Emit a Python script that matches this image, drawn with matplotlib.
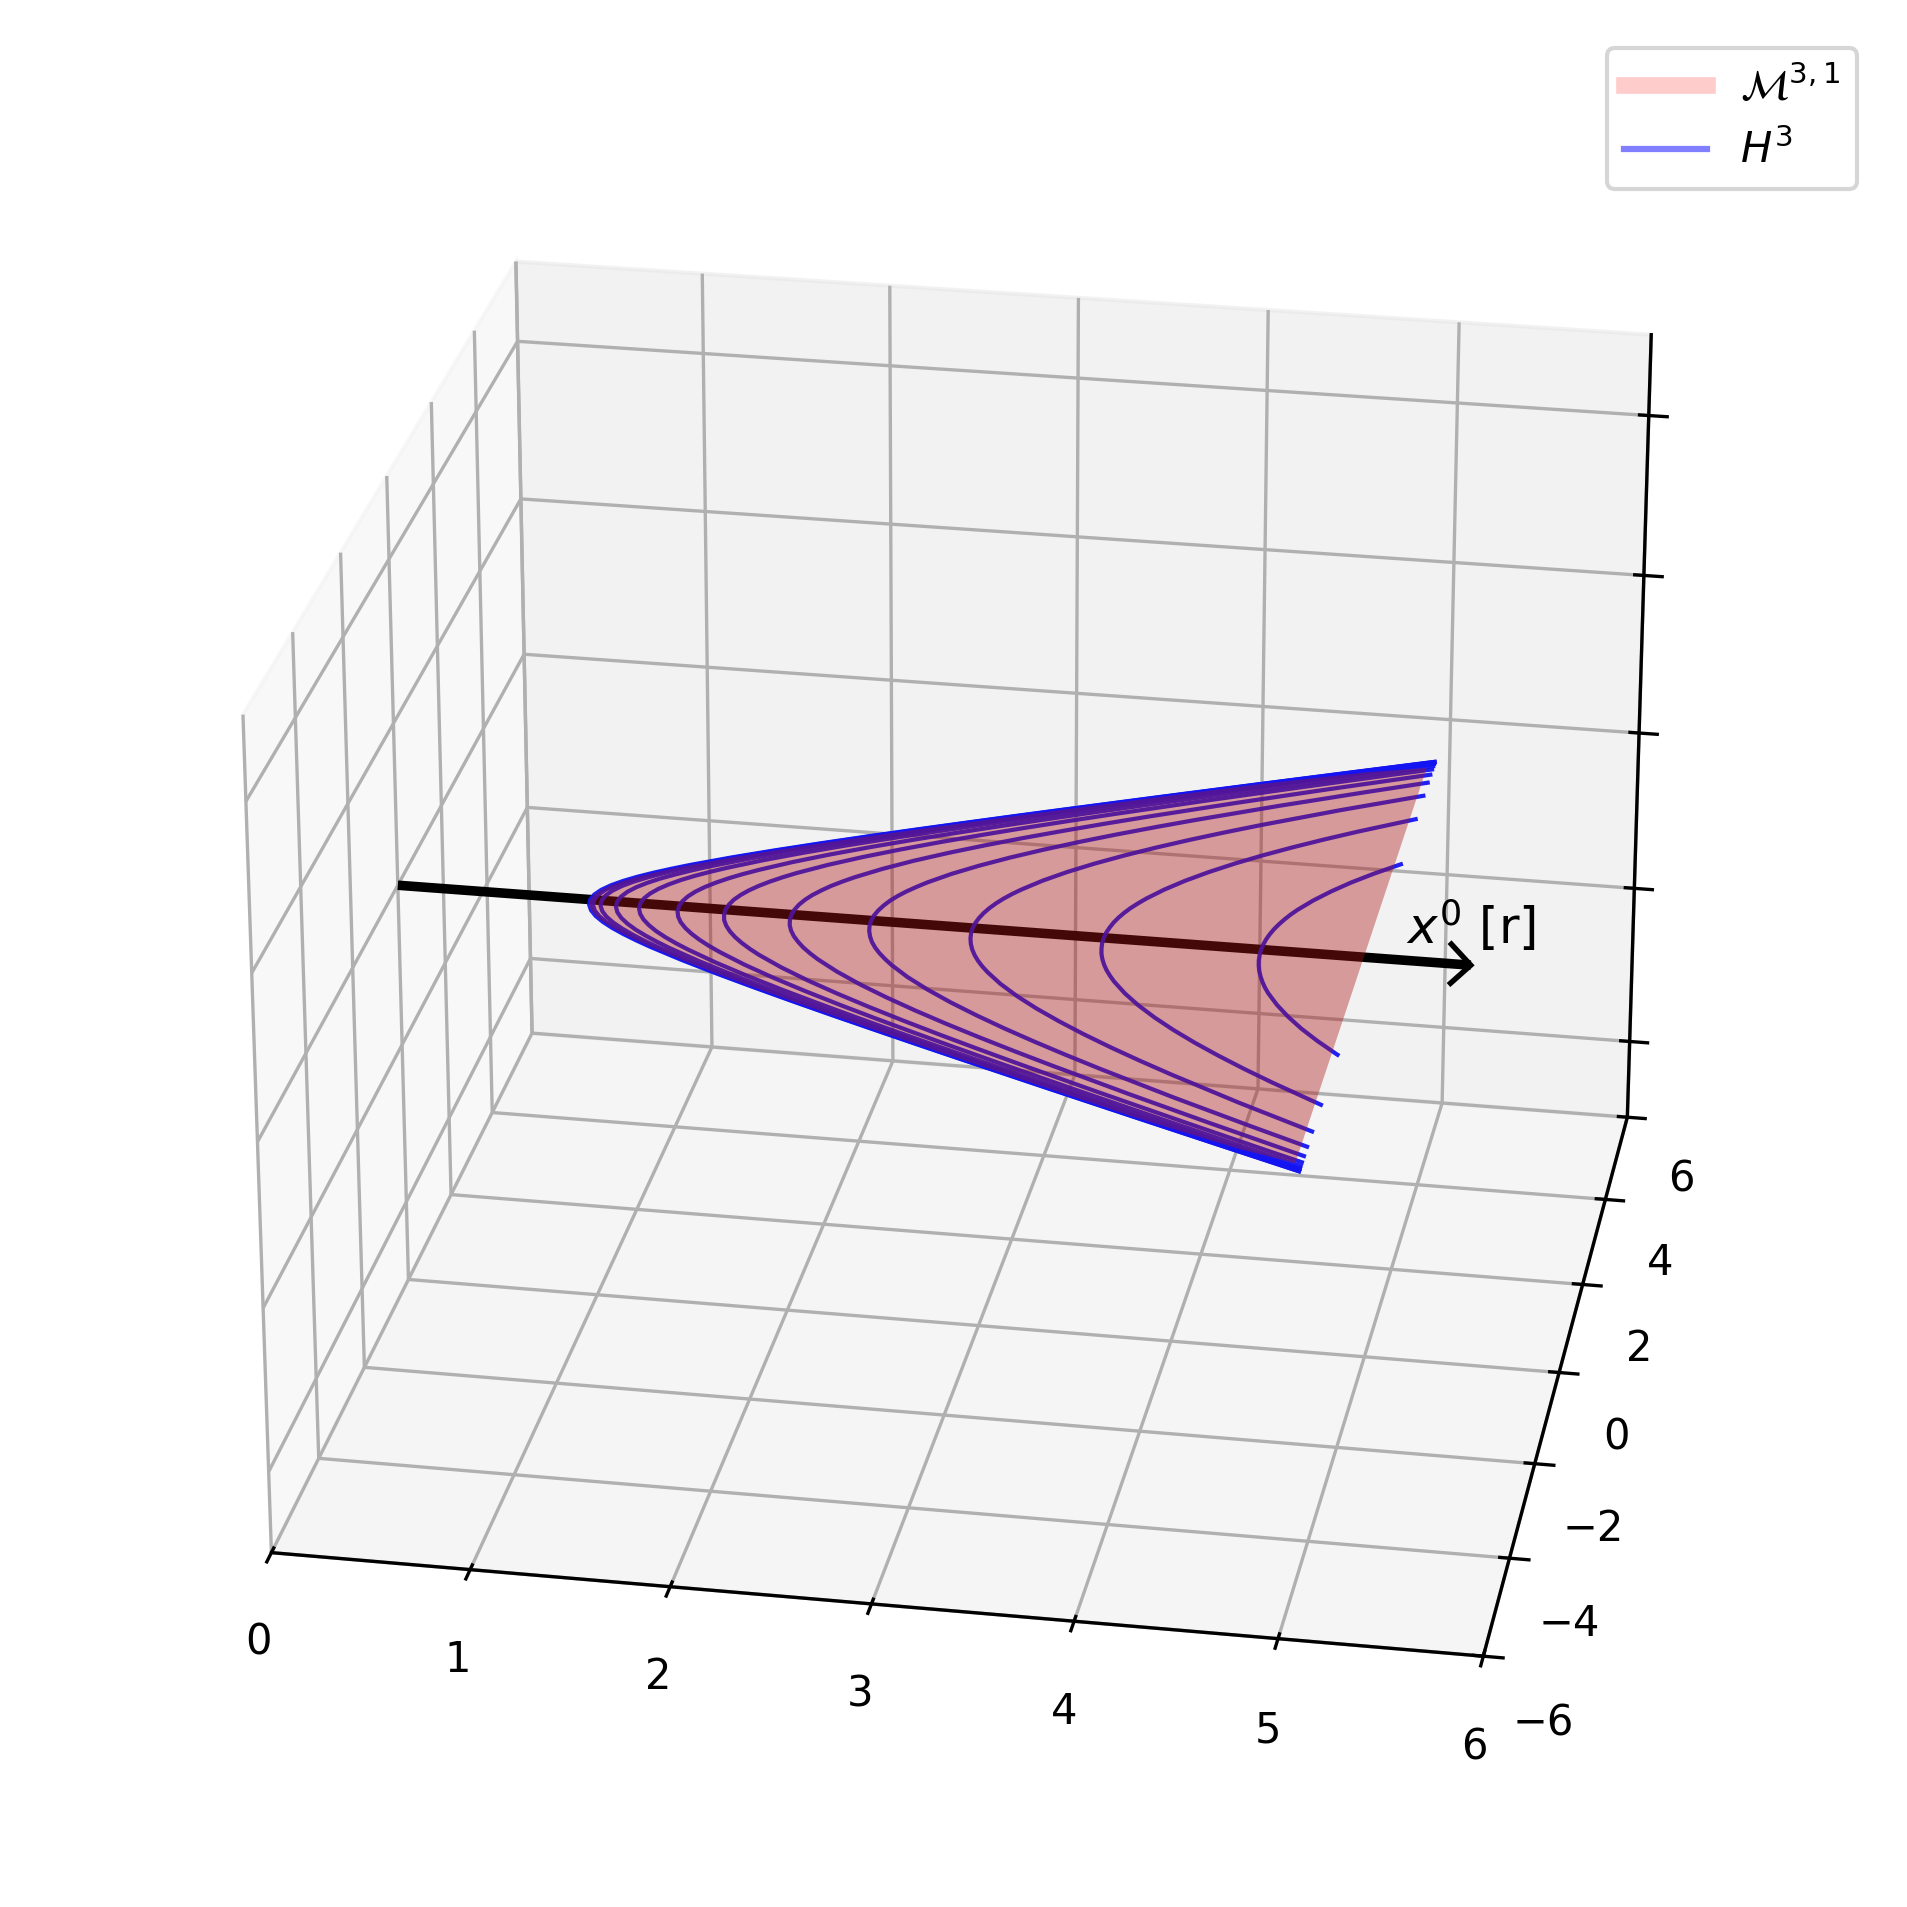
import matplotlib
matplotlib.use("Agg")
import matplotlib.pyplot as plt
from matplotlib.lines import Line2D
from mpl_toolkits.mplot3d.art3d import Poly3DCollection

# Half-hyperbola samples: x0 at each |x1| value
y_samples = [0, .125, .25, .375, .5, .625, .75, .875, 1, 1.25, 1.5, 1.75, 2, 2.25, 2.5, 2.75, 3, 3.5, 4, 4.5]
curve_a = [1, 1.008, 1.031, 1.068, 1.118, 1.179, 1.25, 1.329, 1.414, 1.601, 1.803, 2.016, 2.236, 2.462, 2.693, 2.926, 3.162, 3.640, 4.123, 4.610]
curve_b = [1.02, 1.028, 1.050, 1.087, 1.136, 1.196, 1.266, 1.344, 1.428, 1.613, 1.814, 2.026, 2.245, 2.470, 2.700, 2.933, 3.169, 3.646, 4.128, 4.614]
curve_c = [1.06, 1.067, 1.089, 1.124, 1.172, 1.231, 1.299, 1.374, 1.457, 1.639, 1.837, 2.046, 2.264, 2.487, 2.715, 2.947, 3.182, 3.657, 4.138, 4.623]
curve_d = [1.14, 1.147, 1.167, 1.200, 1.245, 1.300, 1.365, 1.437, 1.516, 1.692, 1.884, 2.089, 2.302, 2.522, 2.748, 2.977, 3.209, 3.681, 4.159, 4.642]
curve_e = [1.26, 1.266, 1.285, 1.315, 1.356, 1.406, 1.466, 1.534, 1.609, 1.775, 1.959, 2.156, 2.364, 2.579, 2.800, 3.025, 3.254, 3.720, 4.194, 4.673]
curve_f = [1.46, 1.465, 1.481, 1.507, 1.543, 1.588, 1.641, 1.702, 1.770, 1.922, 2.093, 2.279, 2.476, 2.682, 2.895, 3.114, 3.336, 3.792, 4.258, 4.731]
curve_g = [1.7, 1.705, 1.718, 1.741, 1.772, 1.811, 1.858, 1.912, 1.972, 2.110, 2.267, 2.440, 2.625, 2.820, 3.023, 3.233, 3.448, 3.891, 4.346, 4.810]
curve_h = [2.04, 2.044, 2.055, 2.074, 2.100, 2.134, 2.173, 2.220, 2.272, 2.393, 2.532, 2.688, 2.857, 3.037, 3.227, 3.424, 3.628, 4.051, 4.490]
curve_i = [2.45, 2.453, 2.463, 2.479, 2.500, 2.528, 2.562, 2.602, 2.646, 2.750, 2.873, 3.011, 3.163, 3.326, 3.500, 3.683, 3.873, 4.272, 4.691]
curve_j = [2.97, 2.973, 2.981, 2.994, 3.012, 3.035, 3.063, 3.096, 3.134, 3.222, 3.327, 3.447, 3.581, 3.726, 3.882, 4.048, 4.222, 4.590, 4.982]
curve_k = [3.64, 3.642, 3.649, 3.659, 3.674, 3.693, 3.716, 3.744, 3.775, 3.849, 3.937, 4.039, 4.153, 4.279, 4.416, 4.562, 4.717]
curve_l = [4.44, 4.442, 4.447, 4.456, 4.468, 4.484, 4.503, 4.525, 4.551, 4.613, 4.687, 4.772, 4.870, 4.978]
curves = [curve_a, curve_b, curve_c, curve_d, curve_e, curve_f, curve_g, curve_h, curve_i, curve_j, curve_k, curve_l]
# |x1| where each curve stops, at x0 = 5
curve_end_y = [4.899, 4.895, 4.886, 4.868, 4.839, 4.782, 4.701, 4.565, 4.359, 4.022, 3.428, 2.299]
curve_end_x = 5.0

# Outline of the shaded region (upper half, mirrored)
fill_y = y_samples[:19] + [4.5, 4.72]
fill_x = curve_a[:19] + [4.66, 4.96]

arrow_len = 5.5
head_back = 0.10
head_half = 0.24
x_ticks = [0, 1, 2, 3, 4, 5, 6]
y_ticks = [-6, -4, -2, 0, 2, 4, 6]
z_ticks = [-4, -2, 0, 2, 4]

fig = plt.figure(figsize=(1907/300, 1907/300), dpi=300)
ax = fig.add_axes([0.015, 0.015, 0.97, 0.97], projection='3d')
ax.computed_zorder = False
ax.view_init(elev=25, azim=-80)
ax.set_xlim(0, 6); ax.set_ylim(-6, 6); ax.set_zlim(-5, 5)
ax.set_xticks(x_ticks); ax.set_yticks(y_ticks); ax.set_zticks(z_ticks)
ax.set_zticklabels([])

ax.plot([0, arrow_len], [0, 0], [0, 0], color='k', lw=2.3, zorder=1, solid_capstyle='butt')
ax.plot([arrow_len - head_back, arrow_len, arrow_len - head_back], [0, 0, 0],
        [head_half, 0, -head_half], color='k', lw=1.3, zorder=1, solid_joinstyle='miter')

for xs, ye in zip(curves, curve_end_y):
    ypos = y_samples[:len(xs)]
    y = [-ye] + [-v for v in ypos[:0:-1]] + ypos + [ye]
    x = [curve_end_x] + xs[:0:-1] + xs + [curve_end_x]
    ax.plot(x, y, [0]*len(x), color=(0.08, 0.08, 0.95), lw=1, alpha=0.95, zorder=2, solid_capstyle='butt')

py = [-v for v in fill_y[:0:-1]] + fill_y
px = fill_x[:0:-1] + fill_x
poly = Poly3DCollection([list(zip(px, py, [0]*len(px)))], facecolor=(172/255, 22/255, 22/255, 0.4), edgecolor='none', zorder=3)
ax.add_collection3d(poly)

ax.text(5.17, 0, 0.2, r'$x^0$ [r]', fontsize=12, zorder=5)

handles = [Line2D([], [], color='r', alpha=0.2, lw=4), Line2D([], [], color='b', alpha=0.5, lw=1.5)]
labels = [r'$\mathcal{M}^{3,1}$', r'$H^3$']
fig.legend(handles, labels, loc='upper right', bbox_to_anchor=(0.974, 0.975), borderaxespad=0)

fig.savefig('out.png', dpi=300)
